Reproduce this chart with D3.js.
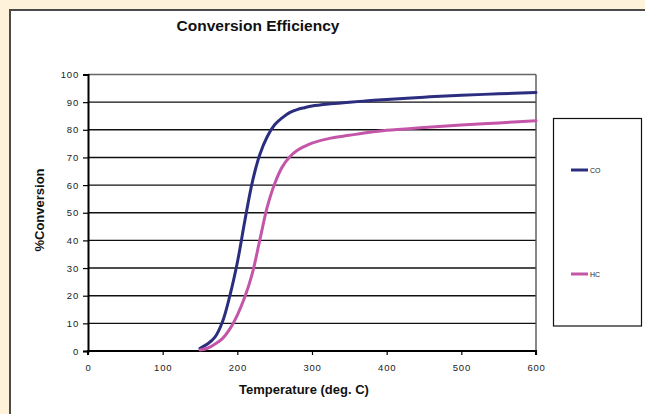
<!DOCTYPE html>
<html>
<head>
<meta charset="utf-8">
<script src="https://cdn.jsdelivr.net/npm/d3@7"></script>
<style>
html,body{margin:0;padding:0;background:#FFF2DA;}
svg{display:block;}
</style>
</head>
<body>
<svg id="chart" width="645" height="414"></svg>
<script>
const temps = [150,160,170,180,190,200,210,220,230,240,250,260,270,280,290,300,325,350,375,400,450,500,550,600];
const coValues = [1,2.5,5,10.5,20,32,47,61,71,77.5,81.8,84.3,86.2,87.3,88,88.6,89.4,90,90.5,91,91.8,92.5,93,93.5];
const hcValues = [0.4,1,2.5,4.5,8,13,19.5,28,40,52,60.5,66.5,70.2,72.5,74,75.2,77,78,79,79.8,80.8,81.7,82.5,83.3];
const xTicks = [0,100,200,300,400,500,600];
const yTicks = [0,10,20,30,40,50,60,70,80,90,100];
const seriesNames = ["CO","HC"];
const seriesColors = ["#2b2e7e","#c356a9"];

const svg = d3.select("#chart");
// panel
svg.append("rect").attr("x",10).attr("y",10).attr("width",660).attr("height",420)
  .attr("fill","#fff").attr("stroke","#4a4a4a").attr("stroke-width",2);

const x = d3.scaleLinear().domain([0,600]).range([88,536]);
const y = d3.scaleLinear().domain([0,100]).range([351,74.5]);

// gridlines
svg.append("g").selectAll("line").data(yTicks.filter(d=>d>0)).join("line")
  .attr("x1",x(0)).attr("x2",x(600)).attr("y1",d=>y(d)).attr("y2",d=>y(d))
  .attr("stroke",d=>d===100?"#666":"#111").attr("stroke-width",1.4);
// right border
svg.append("line").attr("x1",x(600)).attr("x2",x(600)).attr("y1",y(100)).attr("y2",y(0))
  .attr("stroke","#555").attr("stroke-width",1.4);

// axes
const yAxis = d3.axisLeft(y).tickValues(yTicks).tickSize(5).tickPadding(4).tickFormat(d3.format("d"));
const gy = svg.append("g").attr("transform",`translate(${x(0)},0)`).call(yAxis);
const xAxis = d3.axisBottom(x).tickValues(xTicks).tickSize(4).tickPadding(9).tickFormat(d3.format("d"));
const gx = svg.append("g").attr("transform",`translate(0,${y(0)})`).call(xAxis);
[gx,gy].forEach(g=>{
  g.select(".domain").attr("stroke","#000").attr("stroke-width",2);
  g.selectAll(".tick line").attr("stroke","#000").attr("stroke-width",1.2);
  g.selectAll("text").attr("font-family","Liberation Sans, Arial, sans-serif")
    .attr("font-size",9.5).attr("fill","#222").attr("letter-spacing","0.8px");
});
gx.select(".domain").attr("d",`M${x(0)},4V0H${x(600)}V4`);

// lines
const allSeries = [coValues,hcValues];
const line = d3.line().x((d,i)=>x(temps[i])).y(d=>y(d)).curve(d3.curveCatmullRom.alpha(0.5));
allSeries.forEach((vals,k)=>{
  svg.append("path").datum(vals).attr("d",line).attr("fill","none")
    .attr("stroke",seriesColors[k]).attr("stroke-width",3).attr("stroke-linecap","round");
});

// title
svg.append("text").attr("x",258).attr("y",31).attr("text-anchor","middle")
  .attr("font-family","Liberation Sans, Arial, sans-serif").attr("font-weight","bold")
  .attr("font-size",15.5).attr("fill","#111").text("Conversion Efficiency");
// axis titles
svg.append("text").attr("x",304).attr("y",394).attr("text-anchor","middle")
  .attr("font-family","Liberation Sans, Arial, sans-serif").attr("font-weight","bold")
  .attr("font-size",13).attr("fill","#111").text("Temperature (deg. C)");
svg.append("text").attr("transform","translate(44,210) rotate(-90)").attr("text-anchor","middle")
  .attr("font-family","Liberation Sans, Arial, sans-serif").attr("font-weight","bold")
  .attr("font-size",13).attr("fill","#111").text("%Conversion");

// legend
svg.append("rect").attr("x",553.5).attr("y",118.5).attr("width",88).attr("height",207.5)
  .attr("fill","#fff").attr("stroke","#111").attr("stroke-width",1.2);
const legY = [170,274];
seriesNames.forEach((n,k)=>{
  svg.append("line").attr("x1",571).attr("x2",588).attr("y1",legY[k]).attr("y2",legY[k])
    .attr("stroke",seriesColors[k]).attr("stroke-width",3);
  svg.append("text").attr("x",590).attr("y",legY[k]+2.5)
    .attr("font-family","Liberation Sans, Arial, sans-serif").attr("font-size",7)
    .attr("fill","#222").text(n);
});
</script>
</body>
</html>
